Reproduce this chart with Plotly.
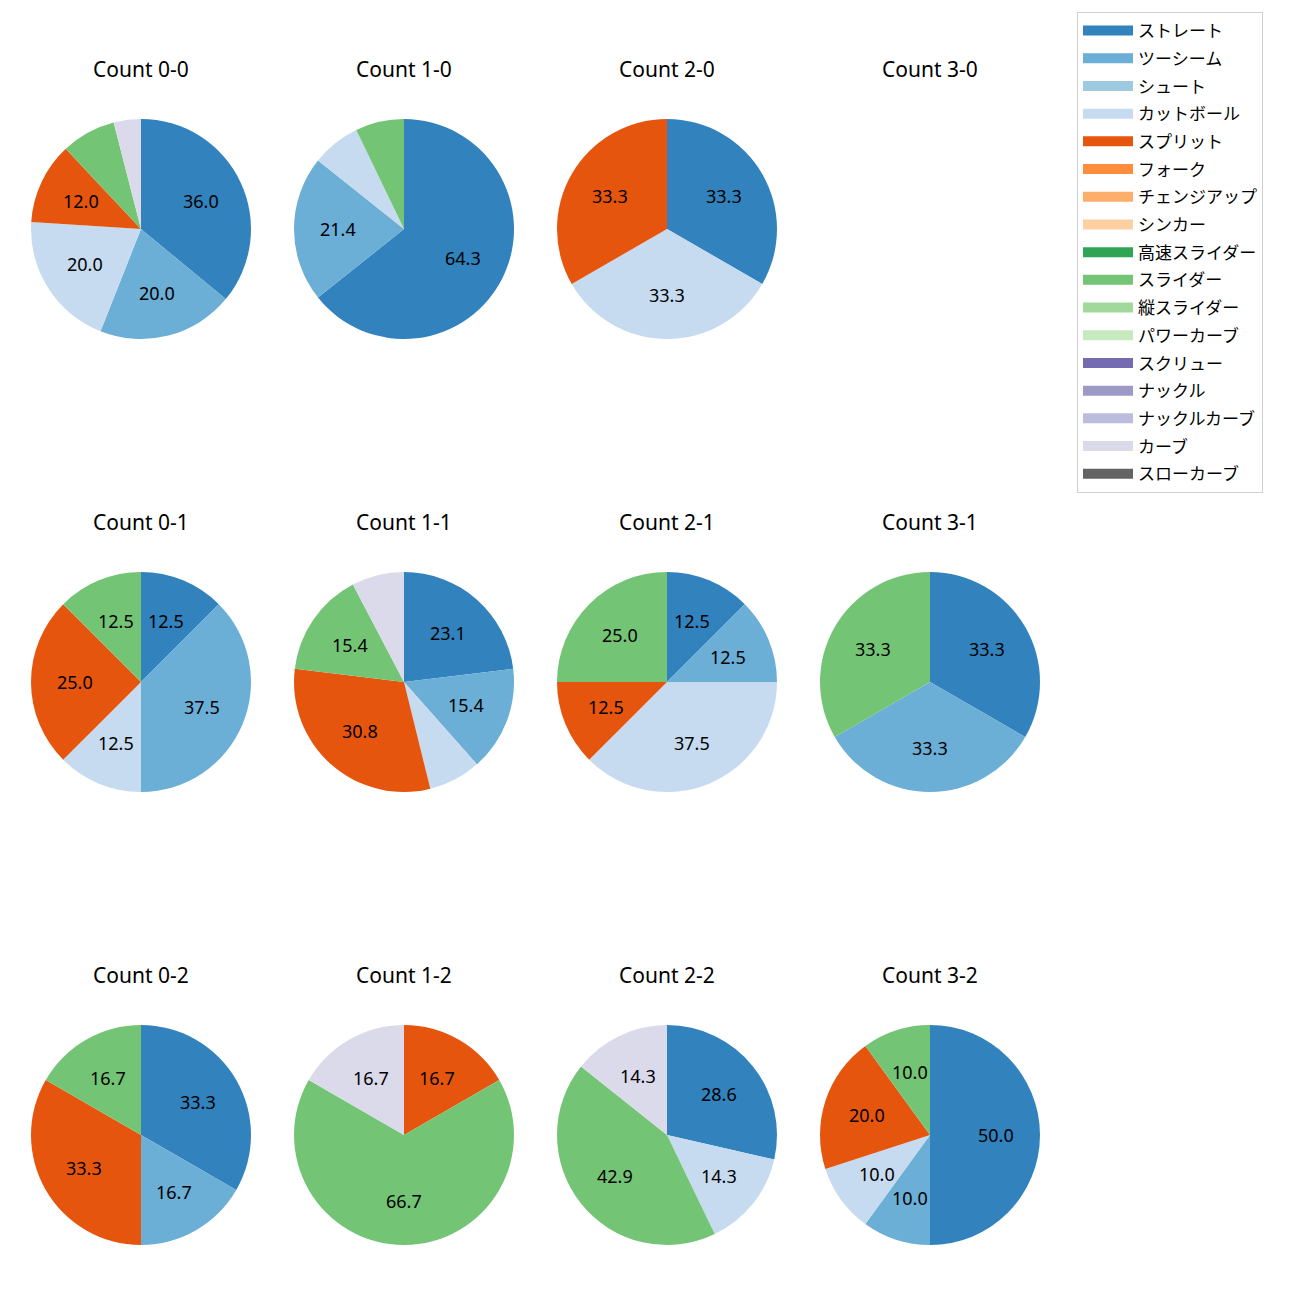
import math
import plotly.graph_objects as go

# ---- data ----
pitch_types = ["ストレート", "ツーシーム", "シュート", "カットボール", "スプリット", "フォーク",
               "チェンジアップ", "シンカー", "高速スライダー", "スライダー", "縦スライダー",
               "パワーカーブ", "スクリュー", "ナックル", "ナックルカーブ", "カーブ", "スローカーブ"]
pitch_colors = ["#3182bd", "#6baed6", "#9ecae1", "#c6dbef", "#e6550d", "#fd8d3c",
                "#fdae6b", "#fdd0a2", "#31a354", "#74c476", "#a1d99b",
                "#c7e9c0", "#756bb1", "#9e9ac8", "#bcbddc", "#dadaeb", "#636363"]

count_titles = ["Count 0-0", "Count 1-0", "Count 2-0", "Count 3-0",
                "Count 0-1", "Count 1-1", "Count 2-1", "Count 3-1",
                "Count 0-2", "Count 1-2", "Count 2-2", "Count 3-2"]

# pitch counts per ball-strike count (read from the percentages shown)
c00_labels = ["ストレート", "ツーシーム", "カットボール", "スプリット", "スライダー", "カーブ"]
c00_values = [9, 5, 5, 3, 2, 1]
c10_labels = ["ストレート", "ツーシーム", "カットボール", "スライダー"]
c10_values = [9, 3, 1, 1]
c20_labels = ["ストレート", "カットボール", "スプリット"]
c20_values = [1, 1, 1]
c30_labels = []
c30_values = []
c01_labels = ["ストレート", "ツーシーム", "カットボール", "スプリット", "スライダー"]
c01_values = [1, 3, 1, 2, 1]
c11_labels = ["ストレート", "ツーシーム", "カットボール", "スプリット", "スライダー", "カーブ"]
c11_values = [3, 2, 1, 4, 2, 1]
c21_labels = ["ストレート", "ツーシーム", "カットボール", "スプリット", "スライダー"]
c21_values = [1, 1, 3, 1, 2]
c31_labels = ["ストレート", "ツーシーム", "スライダー"]
c31_values = [1, 1, 1]
c02_labels = ["ストレート", "ツーシーム", "スプリット", "スライダー"]
c02_values = [2, 1, 2, 1]
c12_labels = ["スプリット", "スライダー", "カーブ"]
c12_values = [1, 4, 1]
c22_labels = ["ストレート", "カットボール", "スライダー", "カーブ"]
c22_values = [2, 1, 3, 1]
c32_labels = ["ストレート", "ツーシーム", "カットボール", "スプリット", "スライダー"]
c32_values = [5, 1, 1, 2, 1]

all_labels = [c00_labels, c10_labels, c20_labels, c30_labels,
              c01_labels, c11_labels, c21_labels, c31_labels,
              c02_labels, c12_labels, c22_labels, c32_labels]
all_values = [c00_values, c10_values, c20_values, c30_values,
              c01_values, c11_values, c21_values, c31_values,
              c02_values, c12_values, c22_values, c32_values]

# ---- layout ----
W = H = 1300
OFF = 8  # page body margin
col_cx = [141, 404, 667, 930]
row_cy = [229, 682, 1135]
R = 110
FONT = "Noto Sans, Noto Sans CJK JP"
color_of = dict(zip(pitch_types, pitch_colors))


def px_x(x):
    return (x - OFF) / W


def px_y(y):
    return 1 - (y - OFF) / H


fig = go.Figure()
annotations = []

for i, (labs, vals) in enumerate(zip(all_labels, all_values)):
    cx = col_cx[i % 4]
    cy = row_cy[i // 4]
    annotations.append(dict(text=count_titles[i], x=px_x(cx), y=px_y(cy - 160),
                            xref="paper", yref="paper", showarrow=False,
                            font=dict(size=21, color="black", family=FONT),
                            xanchor="center", yanchor="middle"))
    if not vals:
        continue
    fig.add_trace(go.Pie(
        labels=labs, values=vals, sort=False, direction="clockwise", rotation=0,
        marker=dict(colors=[color_of[l] for l in labs], line=dict(width=0)),
        textinfo="none", showlegend=False,
        domain=dict(x=[px_x(cx - R), px_x(cx + R)], y=[px_y(cy + R), px_y(cy - R)]),
    ))
    total = sum(vals)
    cum = 0.0
    for v in vals:
        frac = v / total
        mid = 90 - 360 * (cum + frac / 2)
        cum += frac
        pct = 100 * frac
        if pct < 9:
            continue
        px = cx + 0.6 * R * math.cos(math.radians(mid))
        py = cy - 0.6 * R * math.sin(math.radians(mid))
        annotations.append(dict(text=f"{pct:.1f}", x=px_x(px), y=px_y(py),
                                xref="paper", yref="paper", showarrow=False,
                                font=dict(size=18, color="black", family=FONT),
                                xanchor="center", yanchor="middle"))

# legend proxies
for name, col in zip(pitch_types, pitch_colors):
    fig.add_trace(go.Scatter(x=[None], y=[None], mode="lines", name=name,
                             line=dict(color=col, width=13), legendgroup=name,
                             showlegend=True, hoverinfo="skip"))

fig.update_layout(
    width=W, height=H, margin=dict(l=0, r=0, t=0, b=0),
    paper_bgcolor="white", plot_bgcolor="white",
    font=dict(family=FONT),
    xaxis=dict(visible=False), yaxis=dict(visible=False),
    annotations=annotations,
    legend=dict(x=px_x(1077), y=px_y(12), xanchor="left", yanchor="top",
                bordercolor="#d0d0d0", borderwidth=1, bgcolor="white",
                font=dict(size=17, color="black", family=FONT),
                tracegroupgap=2.6, itemwidth=50, traceorder="grouped",
                entrywidth=140, entrywidthmode="pixels"),
)

fig.write_html("out.html")
